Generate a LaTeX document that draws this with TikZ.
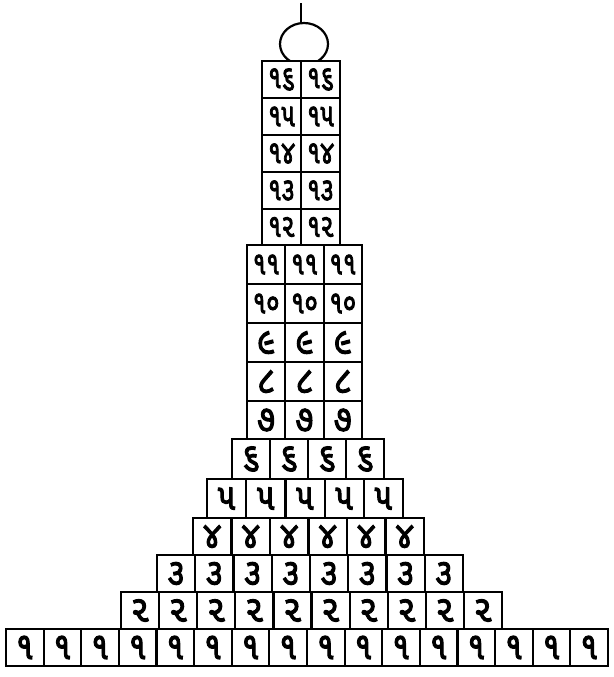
\documentclass[tikz,border=0pt]{standalone}
\usepackage{graphicx}
\usepackage{fontspec}
\newfontfamily\guj[Script=Gujarati,FakeBold=3]{Noto Sans Gujarati UI}
\begin{document}
\begin{tikzpicture}[x=1pt,y=-1pt,line width=2.2pt,
  cell/.style={draw,inner sep=0pt,outer sep=0pt}]
\useasboundingbox (0,0) rectangle (613,677);
\fill[white] (0,0) rectangle (613,677);
\foreach \r/\n/\xl/\xr/\yt/\yb/\t/\fs/\sx/\sy in {
  1/16/6/608/629/666/૧/32/1.0/1.2,
  2/10/121/502/592/629/૨/32/1.05/1.15,
  3/8/157/463/555/592/૩/32/1.0/1.15,
  4/6/193/424/518/555/૪/32/1.0/1.15,
  5/5/207/403/479/518/૫/32/1.0/1.15,
  6/4/232/384/439/479/૬/32/1.0/1.15,
  7/3/247/362/401/439/૭/32/1.0/1.15,
  8/3/247/362/362/401/૮/32/1.0/1.15,
  9/3/247/362/323/362/૯/32/1.0/1.15,
  10/3/247/362/284/323/૧૦/27/0.9/1.2,
  11/3/247/362/245/284/૧૧/27/0.9/1.2,
  12/2/262/340/209/245/૧૨/27/0.9/1.2,
  13/2/262/340/172/209/૧૩/27/0.9/1.2,
  14/2/262/340/135/172/૧૪/27/0.9/1.2,
  15/2/262/340/98/135/૧૫/27/0.9/1.2,
  16/2/262/340/61/98/૧૬/27/0.9/1.2}{
  \pgfmathsetmacro\w{(\xr-\xl)/\n}
  \pgfmathsetmacro\h{\yb-\yt}
  \foreach \i in {1,...,\n}{
    \node[cell,minimum width=\w pt,minimum height=\h pt,
      font=\guj\fontsize{\fs}{\fs}\selectfont]
      (c\r-\i) at ({\xl+(\i-0.5)*\w},{(\yt+\yb)/2}) {\scalebox{\sx}[\sy]{\t}};
  }
}
\coordinate (domec) at (304,44);
\begin{scope}
  \clip (270,0) rectangle (340,61);
  \draw (domec) ellipse [x radius=24,y radius=21];
\end{scope}
\coordinate (domtop) at (301,23.5);
\coordinate (spire) at (301,3);
\draw (domtop) -- (spire);
\end{tikzpicture}
\end{document}
